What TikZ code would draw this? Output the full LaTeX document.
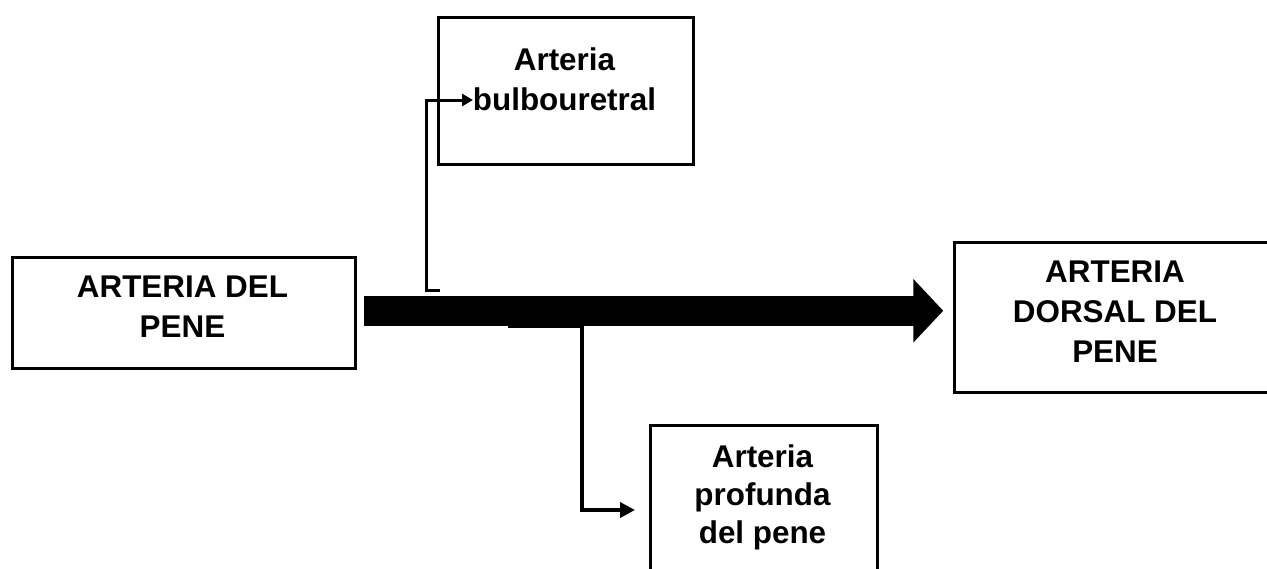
\documentclass[tikz,border=0pt]{standalone}
\usepackage{fontspec}
\setmainfont{Liberation Sans}
\usetikzlibrary{arrows.meta}
\begin{document}
\begin{tikzpicture}[x=1pt,y=-1pt]
\tikzset{
  box/.style={draw, line width=2.5pt, inner sep=0pt, anchor=north west},
  lbl/.style={font=\bfseries\fontsize{31.4}{40}\selectfont, align=center, anchor=base, inner sep=0pt},
  branch/.style={line width=3.5pt, -{Triangle[length=15pt,width=15pt]}},
}
\useasboundingbox (0,0) rectangle (1267,568);
% boxes
\node[box, minimum width=255pt, minimum height=147pt] (bulb) at (437,16) {};
\node[box, minimum width=343pt, minimum height=111pt] (pene) at (11,256) {};
\node[box, minimum width=324pt, minimum height=150pt] (dorsal) at (953,241) {};
\node[box, minimum width=227pt, minimum height=150pt] (prof) at (649,424) {};
% labels (base anchor = baseline of last line)
\node[lbl] (bulbT) at (564.5,110) {Arteria\\bulbouretral};
\node[lbl] (peneT) at (182.5,337) {ARTERIA DEL\\PENE};
\node[lbl] (dorsalT) at (1115,362) {ARTERIA\\DORSAL DEL\\PENE};
\node[lbl, font=\bfseries\fontsize{31.4}{38}\selectfont] (profT) at (762.5,543) {Arteria\\profunda\\del pene};
% main thick arrow
\draw[line width=29.5pt, -{Triangle[length=30pt,width=62pt]}, shorten <=7.75pt, shorten >=9.75pt]
  ([yshift=2pt]pene.east) -- ([yshift=6.5pt]dorsal.west);
% branches
\coordinate (ub0) at (440,290);
\coordinate (ub1) at (473,100);
\coordinate (lb0) at (508,326);
\coordinate (lb1) at (635,510);
\draw[line width=3pt, -{Triangle[length=11pt,width=12pt]}] (ub0) -- ++(-14,0) |- (ub1);
\draw[branch] (lb0) -- ++(74,0) |- (lb1);
\end{tikzpicture}
\end{document}
